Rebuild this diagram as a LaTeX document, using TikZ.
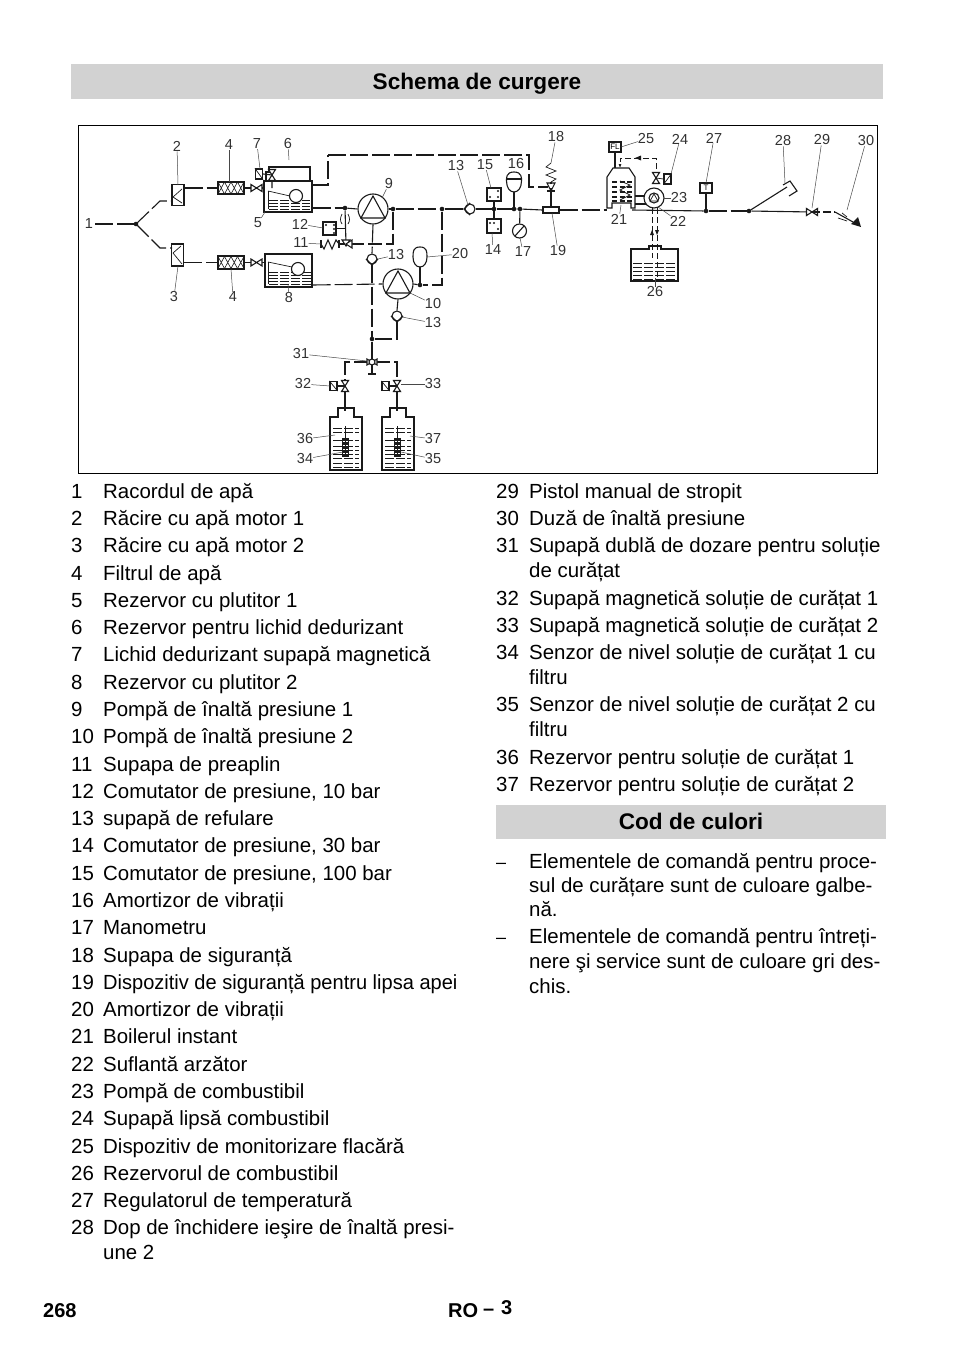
\documentclass[tikz,border=0pt]{standalone}
\usepackage{fontspec}
\setmainfont{Liberation Sans}
\usetikzlibrary{arrows.meta,calc}
\definecolor{band}{HTML}{D2D2D2}
\definecolor{ink}{HTML}{1A1A1A}
\tikzset{
 pipe/.style={draw=ink,line width=1.1pt,dash pattern=on 18pt off 4pt},
 wire/.style={draw=ink,line width=1.1pt},
 thin wire/.style={draw=ink,line width=.7pt},
 lead/.style={draw=ink!80,line width=.5pt},
 lab/.style={font=\fontsize{14.5}{14.5}\selectfont,text=ink!90,inner sep=0pt},
 box/.style={draw=ink,line width=1.2pt,fill=white,inner sep=0pt},
 dot/.style={circle,fill=ink,inner sep=0pt,minimum size=4.6pt},
 roundel/.style={circle,draw=ink,line width=1.1pt,fill=white,inner sep=0pt},
 txt/.style={font=\fontsize{20.45}{20.45}\selectfont,anchor=base west,inner sep=0pt,text=black},
 head/.style={font=\bfseries\fontsize{22.6}{22.6}\selectfont,anchor=base,inner sep=0pt,text=black},
 foot/.style={font=\bfseries\fontsize{20}{20}\selectfont,anchor=base west,inner sep=0pt,text=black},
 valveh/.pic={\draw[wire,fill=white](-5.5,-3.5)--(5.5,3.5)--(5.5,-3.5)--(-5.5,3.5)--cycle;},
 valvev/.pic={\draw[wire,fill=white](-3.5,-5.5)--(3.5,5.5)--(-3.5,5.5)--(3.5,-5.5)--cycle;},
 hatch/.style={draw=ink,line width=.5pt,dash pattern=on 9pt off 2pt},
}
\begin{document}
\begin{tikzpicture}[x=1pt,y=-1pt]
\useasboundingbox[fill=white] (0,0) rectangle (954,1354);
% bands
\fill[band] (71,64) rectangle (883,99);
\fill[band] (496,805) rectangle (886,839);
\node[head] (title) at (477,89) {Schema de curgere};
\node[head] (title2) at (691,829) {Cod de culori};
\draw[black,line width=.9pt] (78,125) rectangle (877,473);
% ---- coordinates
\coordinate (j1) at (136,224);
\coordinate (u1) at (160,201); \coordinate (u2) at (172,201);
\coordinate (d1) at (160,248); \coordinate (d2) at (172,248);
\coordinate (l1) at (95,224);
% cooling boxes
\node[box,minimum width=12pt,minimum height=21pt] (c2) at (178,195) {};
\node[box,minimum width=12pt,minimum height=22pt] (c3) at (177.5,255) {};
\draw[thin wire] (182,189)--(173,197)--(182,203);
\draw[thin wire] (181,246)--(173,253)--(182,264);
% filters
\node[box,minimum width=26pt,minimum height=12pt] (f1) at (231,188) {};
\node[box,minimum width=26pt,minimum height=13pt] (f2) at (231,262.5) {};
\foreach \y in {188,262.5}{
 \foreach \x in {218,224.5,231,237.5}{
  \draw[thin wire,line width=.6pt] (\x,\y-6)--(\x+6.5,\y+6) (\x,\y+6)--(\x+6.5,\y-6);}}
% tanks
\node[box,minimum width=48pt,minimum height=31pt] (t5) at (288,196.5) {};
\node[box,minimum width=47pt,minimum height=33pt] (t8) at (288.5,270.5) {};
\draw[wire] (266,181)--(266,172)--(269,172)--(269,167)--(310,167)--(310,181);
\draw[thin wire] (268,191)--(290,196); \draw[thin wire] (268,191)--(268,209);
\draw[thin wire] (268,262)--(292,267); \draw[thin wire] (268,262)--(268,284);
\foreach \y in {200,203,206,209}{\draw[hatch] (269,\y)--(310,\y);}
\foreach \y in {272,275,278,281,284}{\draw[hatch] (269,\y)--(311,\y);}
\node[roundel,minimum size=13pt] (fl1) at (296,196) {};
\node[roundel,minimum size=13pt] (fl2) at (298,269) {};
% valve 7 + solenoid
\node[box,minimum width=7pt,minimum height=10pt] (s7) at (259,174) {};
\draw[thin wire] (s7.north west)--(s7.south east);
\coordinate (v7) at (272,175);
% pumps
\node[roundel,minimum size=30pt] (p9) at (373,209) {};
\node[roundel,minimum size=30pt] (p10) at (398,284) {};
\draw[wire] (373,196)--(361,218)--(385,218)--cycle;
\draw[wire] (398,271)--(386,293)--(410,293)--cycle;
% junctions
\coordinate (e5) at (312,185);
\coordinate (k1) at (328,185); \coordinate (k2) at (328,155); \coordinate (k3) at (529,155);
\coordinate (k4) at (529,187);
\node[dot] (jA) at (345,208) {};
\node[dot] (jB) at (393,209) {};
\node[dot] (jC) at (442,209) {};
\node[dot] (jD) at (494,209) {};
\node[dot] (jE) at (514,209) {};
\node[dot] (jF) at (520,209) {};
\node[dot] (jG) at (420,285) {};
\node[dot] (jH) at (372,339) {};
\node[dot] (jT) at (706,211) {};
\node[dot] (jP) at (749,211) {};
\node[dot] (j1d) at (j1) {};
\coordinate (b1) at (393,244); \coordinate (b2) at (372,244);
\coordinate (x1) at (442,285);
% check valves
\node[roundel,minimum size=10pt] (cv1) at (470,209) {};
\node[roundel,minimum size=10pt] (cv2) at (372,259) {};
\node[roundel,minimum size=10pt] (cv3) at (397,316) {};
\draw[wire] (470,203)--(464,209)--(470,215);
\draw[wire] (366,259)--(372,265)--(378,259);
\draw[wire] (391,316)--(397,322)--(403,316);
% switches
\node[box,minimum width=14pt,minimum height=13pt] (s15) at (494,194.5) {};
\node[box,minimum width=14pt,minimum height=14pt] (s14) at (494,226) {};
\node[box,minimum width=13pt,minimum height=13pt] (s12) at (329.5,228.5) {};
\foreach \p in {(490,197),(498,197),(498,191),(490,223),(494,223),(498,229),(326,225),(334,225),(334,229),(334,233)}{\fill[ink] \p circle (1.1pt);}
% dampers
\draw[wire] (514,172) .. controls (522,172) and (521.5,178) .. (521.5,181) .. controls (521.5,188) and (518,192) .. (514,192) .. controls (510,192) and (506.5,188) .. (506.5,181) .. controls (506.5,178) and (506,172) .. (514,172);
\draw[wire] (507,179)--(521,179);
\coordinate (d16) at (514,192);
\draw[wire] (420,247) .. controls (427,247) and (427,252) .. (427,257) .. controls (427,263) and (424,267) .. (420,267) .. controls (416,267) and (413,263) .. (413,257) .. controls (413,252) and (413,247) .. (420,247);
\coordinate (d20) at (420,267);
% gauge
\node[roundel,minimum size=14pt] (g17) at (519.5,231) {};
% 19 box and 18 safety
\node[box,minimum width=16pt,minimum height=6pt] (b19) at (551,210) {};
\coordinate (s18t) at (551,163); \coordinate (s18b) at (551,182);
\draw[thin wire] (s18t)--(546,167)--(556,171)--(546,175)--(556,179)--(551,182);
\draw[wire] (547,183)--(555,183)--(551,191)--cycle;
\draw[wire] (547,191)--(555,191);
\coordinate (v18) at (548,187);
% 21 boiler
\draw[wire,fill=white] (607,208)--(607,177)--(613,168)--(629,168)--(635,177)--(635,208)--(631,208)--(631,203)--(612,203)--(612,208)--cycle;
\coordinate (b21l) at (607,210); \coordinate (b21r) at (632,210);
\foreach \y in {182,187,192,197,201}{\draw[draw=ink,line width=1.2pt,dash pattern=on 5pt off 2.5pt] (612,\y)--(632,\y);}
\draw[thin wire] (620,181)--(630,185)--(620,190)--(630,195)--(620,200);
\node[box,minimum width=12pt,minimum height=10pt,font=\fontsize{8}{8}\selectfont] (fl25) at (615,147) {FL};
\coordinate (h21) at (615,168);
\coordinate (a1) at (620,168); \coordinate (a2) at (620,158); \coordinate (a3) at (656,158); \coordinate (v24) at (656,178);
% pump 22/23
\draw[wire] (635,196)--(647,196); \draw[wire] (635,204)--(648,204);
\node[roundel,minimum size=20pt] (p22) at (654,198) {};
\node[roundel,minimum size=10pt] (p23) at (654,198) {};
\draw[thin wire] (654,194)--(650,201)--(658,201)--cycle;
\node[box,minimum width=7pt,minimum height=10pt] (s24) at (667.5,179) {};
\draw[thin wire] (s24.south west)--(s24.north east);
% fuel tank
\draw[wire,fill=white] (631,249)--(649,249)--(649,246)--(661,246)--(661,249)--(678,249)--(678,281)--(631,281)--cycle;
\coordinate (n1) at (652,258); \coordinate (n1t) at (652,208);
\coordinate (n2) at (657,278); \coordinate (n2t) at (657,208);
\foreach \y in {263,267,271,275,279}{\draw[hatch] (633,\y)--(676,\y);}
% 27
\node[box,minimum width=12pt,minimum height=10pt,font=\fontsize{8}{8}\selectfont] (t27) at (706,188) {T};
% 28 handle
\coordinate (h1) at (787,187);
\draw[wire] (783,185)--(790,181)--(797,191)--(789,196);
% 29, nozzle
\coordinate (v29) at (812,212); \coordinate (z1) at (835,212);
\coordinate (z2) at (853,222);
\fill[ink] (851,224)--(858,217)--(861,227)--cycle;
\draw[thin wire] (842,213)--(847,217) (838,218)--(847,221);
% orifice 
\draw[thin wire] (342,214) .. controls (340,218) and (340,221) .. (342,224);
\draw[thin wire] (348,214) .. controls (350,218) and (350,221) .. (348,224);
% spring 11
\coordinate (sp1) at (321,244); \coordinate (sp2) at (339,244);
\draw[wire] (321,240)--(321,248) (339,240)--(339,248);
\draw[wire] (321,244)--(324,249)--(328,240)--(332,249)--(336,240)--(339,244);
% valve 11
\coordinate (v11) at (346,244);
% bottom
\coordinate (v31) at (372,362); \coordinate (l31) at (345,362); \coordinate (r31) at (397,362);
\coordinate (v32) at (345,386); \coordinate (v33) at (397,386);
\node[box,minimum width=7pt,minimum height=9pt] (s32) at (333.5,386) {};
\node[box,minimum width=7pt,minimum height=9pt] (s33) at (385.5,386) {};
\draw[thin wire] (s32.north west)--(s32.south east) (s33.north west)--(s33.south east);
% bottles
\foreach \xx in {330,382}{
 \draw[wire,fill=white] (\xx,417)--(\xx+8,417)--(\xx+8,408)--(\xx+24,408)--(\xx+24,417)--(\xx+32,417)--(\xx+32,470)--(\xx,470)--cycle;
 \draw[thin wire] (\xx+15.5,426)--(\xx+15.5,438);
 \foreach \y in {428,432,440,446,450,454,458,463,467}{\draw[hatch] (\xx+3,\y)--(\xx+29,\y);}
 \fill[ink] (\xx+12,438) rectangle (\xx+19,457);
 \foreach \y in {441,445,449,453}{\draw[white,line width=.5pt,dash pattern=on 1.5pt off 1.5pt] (\xx+13,\y)--(\xx+18,\y);}
}
\coordinate (b36t) at (345,411); \coordinate (b37t) at (397,411);
% ---- connectors
\draw[pipe] (l1)--(j1);
\draw[pipe] (j1)--(u1)--(u2);
\draw[pipe] (j1)--(d1)--(d2);
\draw[pipe] (c2.east|-f1)--(f1.west);
\draw[pipe] (c3.east|-f2)--(f2.west);
\coordinate (v1) at (256.5,188); \coordinate (v2) at (256.5,262.5);
\draw[wire] (f1.east)--(v1); \draw[wire] (f2.east)--(v2);
\draw[wire] (v1)--(t5.west|-v1); \draw[wire] (v2)--(t8.west|-v2);
\pic at (v1) {valveh}; \pic at (v2) {valveh};
\draw[wire] (272,188)--(v7)--(s7.east);
\pic at (v7) {valvev};
\draw[pipe] (e5)--(k1)--(k2);
\draw[pipe] (k2)--(k3)--(k4)--(v18);
\draw[pipe] (t5.east|-jA)--(jA);
\draw[wire] (jA)--(p9.west);
\draw[wire] (jA)--(v11);
\draw[wire] (s12.east)--(s12.east-|jA);
\draw[wire] (sp2)--(v11);
\draw[pipe] (v11)--(b2);
\draw[wire,fill=white] (342,240)--(350,240)--(346,246)--cycle;
\draw[wire,fill=white] (346,244)--(352,240)--(352,248)--cycle;
\draw[pipe] (p9.south)--(cv2.north);
\draw[pipe] (cv2.south)--(jH);
\draw[pipe] (t8.east|-jG)--(p10.west);
\draw[wire] (p9.east)--(jB);
\draw[pipe] (jB)--(jC);
\draw[pipe] (jC)--(cv1.west);
\draw[wire] (cv1.east)--(jD);
\draw[pipe] (jD)--(jE);
\draw[wire] (jE)--(jF)--(b19.west);
\draw[pipe] (b19.east)--(b21l);
\draw[pipe] (jB)--(b1)--(b2);
\draw[pipe] (jC)--(x1)--(jG);
\draw[wire] (jG)--(p10.east);
\draw[wire] (jG)--(d20);
\draw[wire] (s15.south)--(s14.north);
\draw[wire] (jE)--(d16);
\draw[wire] (jF)--(g17);
\draw[wire] (515,236)--(524,226);
\draw[pipe] (b19.north)--(s18b);
\draw[pipe] (p10.south)--(cv3.north);
\draw[pipe] (cv3.south)--(397,339)--(jH);
\draw[pipe] (jH)--(v31);
\draw[pipe] (v31)--(l31)--(v32);
\draw[pipe] (v31)--(r31)--(v33);
\draw[wire] (v32)--(b36t); \draw[wire] (v33)--(b37t);
\draw[wire] (v32)--(s32.east); \draw[wire] (v33)--(s33.east);
\pic at (v32) {valvev}; \pic at (v33) {valvev};
\draw[wire] (v31)--(372,374) (368,374)--(376,374);
\draw[wire,fill=white] (367,359)--(377,365)--(377,359)--(367,365)--cycle;
\node[roundel,minimum size=6pt] (m31) at (v31) {};
\draw[wire] (b21r)--(jT);
\draw[wire] (fl25.south)--(h21);
\draw[thin wire,dash pattern=on 6pt off 3pt,-{Latex[length=4pt]}] (v24)--(a3)--(a2)--(a1);
\fill[ink] (635,158)--(641,155.5)--(641,160.5)--cycle;
\pic at (v24) {valvev};
\draw[thin wire] (v24)--(s24.west);
\draw[pipe] (jT)--(jP);
\draw[wire] (jT)--(t27.south);
\draw[wire] (jP)--(h1);
\draw[wire] (jP)--(v29);
\pic at (v29) {valveh};
\draw[pipe,dash pattern=on 8pt off 3pt] (v29)--(z1);
\draw[wire] (z1)--(z2);
\draw[thin wire,dash pattern=on 6pt off 3pt] (n1t)--(n1);
\draw[thin wire,dash pattern=on 6pt off 3pt] (n2t)--(n2);
\fill[ink] (652,230)--(650,235)--(654,235)--cycle;
\fill[ink] (657,235)--(655,230)--(659,230)--cycle;
% ---- diagram labels
\foreach \t/\x/\y/\n in {1/89/224/a,2/177/146/b,4/229/145/c,7/257/144/d,6/288/144/e,5/258/223/f,12/300/224/g,11/301/243/h,3/174/297/i,4/233/297/j,8/289/298/k,9/389/184/l,13/456/166/m,15/485/165/n,16/516/164/o,18/556/137/p,25/646/139/q,24/680/139/r,27/714/138/s,28/783/141/t,29/822/140/u,30/866/141/v,14/493/250/w,17/523/252/x,19/558/251/y,20/460/254/z,21/619/219/aa,22/678/221/ab,23/679/198/ac,26/655/292/ad,10/433/304/ae,13/433/323/af,13/396/255/ag,31/301/354/ah,32/303/384/ai,33/433/384/aj,36/305/439/ak,34/305/459/al,37/433/439/am,35/433/459/an}
 {\node[lab] (L\n) at (\x,\y) {\t};}
% leaders
\draw[lead] (Lb)--(178,185); \draw[lead] (Lc)--(229,182); \draw[lead] (Ld)--(260,169);
\draw[lead] (Le)--(289,160); \draw[lead] (Lf)--(265,212); \draw[lead] (Lg)--(323,228);
\draw[lead] (Lh)--(321,244); \draw[lead] (Li)--(178,266); \draw[lead] (Lj)--(231,269);
\draw[lead] (Lk)--(288,284); \draw[lead] (Ll)--(382,198); \draw[lead] (Lm)--(468,205);
\draw[lead] (Ln)--(491,188); \draw[lead] (Lq)--(621,147); \draw[lead] (Lr)--(671,174);
\draw[lead] (Ls)--(706,183); \draw[lead] (Lt)--(785,183); \draw[lead] (Lu)--(812,208);
\draw[lead] (Lv)--(847,210); \draw[lead] (Lw)--(492,233); \draw[lead] (Lx)--(520,238);
\draw[lead] (Lp)--(551,163); \draw[lead] (Ly)--(552,213); \draw[lead] (Lz)--(427,257);
\draw[lead] (Laa)--(621,205); \draw[lead] (Lab)--(658,207); \draw[lead] (Lac)--(664,198);
\draw[lead] (Lad)--(655,278); \draw[lead] (Lae)--(408,292); \draw[lead] (Laf)--(402,317);
\draw[lead] (Lag)--(378,259); \draw[lead] (Lah)--(367,361); \draw[lead] (Lai)--(330,386);
\draw[lead] (Laj)--(401,384); \draw[lead] (Lak)--(335,435); \draw[lead] (Lal)--(343,452);
\draw[lead] (Lam)--(410,436); \draw[lead] (Lan)--(401,452);
% ---- left list
\foreach \n/\y/\t in {1/498/Racordul de apă,2/525/Răcire cu apă motor 1,3/552/Răcire cu apă motor 2,4/580/Filtrul de apă,5/607/Rezervor cu plutitor 1,6/634/Rezervor pentru lichid dedurizant,7/661/Lichid dedurizant supapă magnetică,8/689/Rezervor cu plutitor 2,9/716/Pompă de înaltă presiune 1,10/743/Pompă de înaltă presiune 2,11/771/Supapa de preaplin,12/798/{Comutator de presiune, 10 bar},13/825/supapă de refulare,14/852/{Comutator de presiune, 30 bar},15/880/{Comutator de presiune, 100 bar},16/907/Amortizor de vibrații,17/934/Manometru,18/962/Supapa de siguranță,20/1016/Amortizor de vibrații,21/1043/Boilerul instant,22/1071/Suflantă arzător,23/1098/Pompă de combustibil,24/1125/Supapă lipsă combustibil,25/1153/Dispozitiv de monitorizare flacără,26/1180/Rezervorul de combustibil,27/1207/Regulatorul de temperatură,28/1234/Dop de închidere ieşire de înaltă presi-}
 {\node[txt] (n\n) at (71,\y) {\n}; \node[txt] (m\n) at (103,\y) {\t};}
\node[txt] (n19) at (71,989) {19};
\node[txt] (m19) at (103,989) {\scalebox{.98}[1]{Dispozitiv de siguranță pentru lipsa apei}};
\node[txt] (m28b) at (103,1259) {une 2};
% ---- right list
\foreach \n/\y/\t in {29/498/Pistol manual de stropit,30/525/Duză de înaltă presiune,31/552/Supapă dublă de dozare pentru soluție,32/605/Supapă magnetică soluție de curățat 1,33/632/Supapă magnetică soluție de curățat 2,34/659/Senzor de nivel soluție de curățat 1 cu,35/711/Senzor de nivel soluție de curățat 2 cu,36/764/Rezervor pentru soluție de curățat 1,37/791/Rezervor pentru soluție de curățat 2}
 {\node[txt] (n\n) at (496,\y) {\n}; \node[txt] (m\n) at (529,\y) {\t};}
\node[txt] (m31b) at (529,577) {de curățat};
\node[txt] (m34b) at (529,684) {filtru};
\node[txt] (m35b) at (529,736) {filtru};
% ---- bullets
\foreach \y/\t in {868/Elementele de comandă pentru proce-,892/sul de curățare sunt de culoare galbe-,916/nă.,943/Elementele de comandă pentru întreți-,968/nere şi service sunt de culoare gri des-,993/chis.}
 {\node[txt] at (529,\y) {\t};}
\node[txt] (dash1) at (496,868) {\fontsize{18}{18}\selectfont –};
\node[txt] (dash2) at (496,943) {\fontsize{18}{18}\selectfont –};
% ---- footer
\node[foot] (pg) at (43,1317) {268};
\node[foot] (ro) at (448,1317) {RO};
\node[foot] (da) at (483,1315) {–};
\node[foot] (tr) at (501,1314) {3};
\end{tikzpicture}
\end{document}
